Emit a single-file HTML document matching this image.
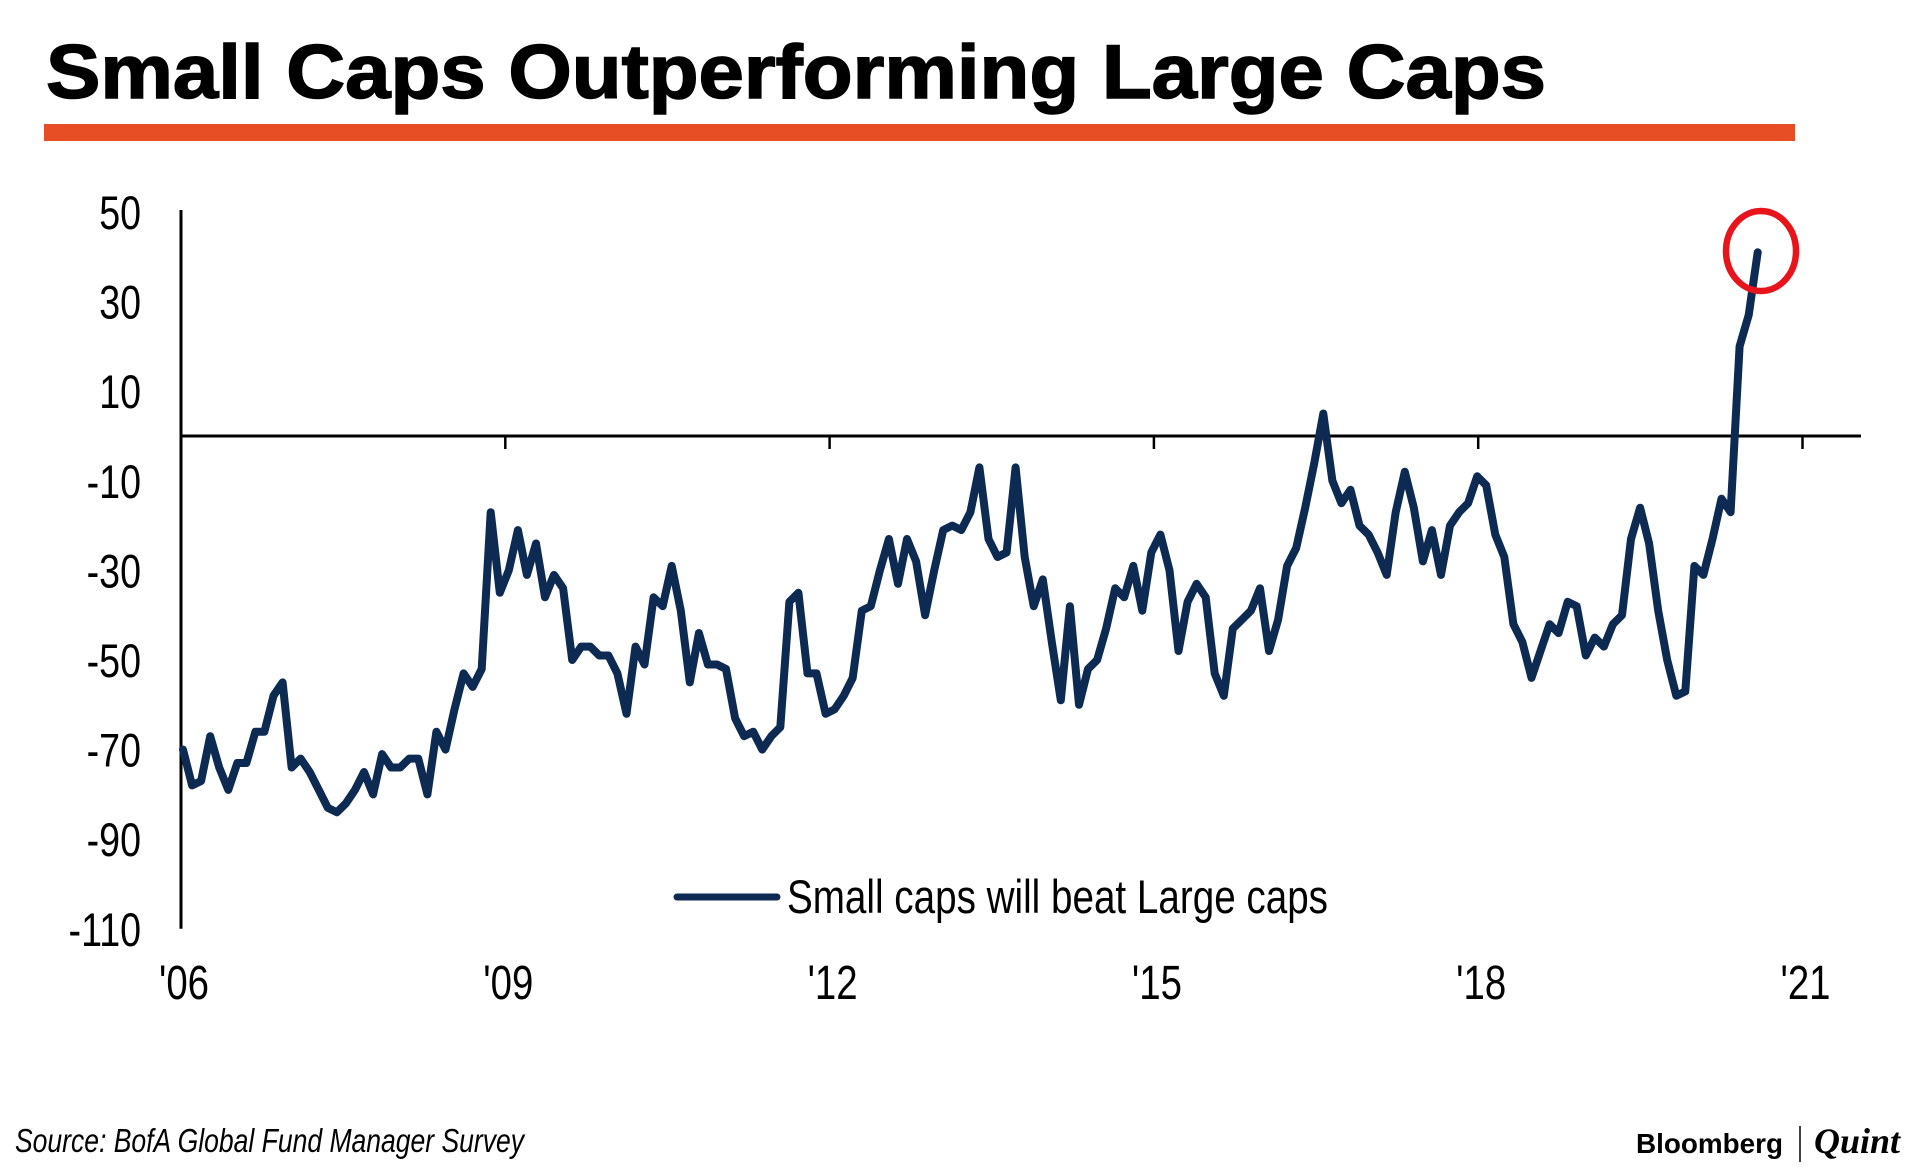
<!DOCTYPE html>
<html><head><meta charset="utf-8"><style>
html,body{margin:0;padding:0;background:#fff;}
svg{display:block;}
</style></head><body>
<svg id="chart" width="1920" height="1168" viewBox="0 0 1920 1168" xmlns="http://www.w3.org/2000/svg">
<text x="46" y="98" font-family="Liberation Sans, sans-serif" font-weight="bold" font-size="76" textLength="1500" lengthAdjust="spacingAndGlyphs" fill="#000" stroke="#000" stroke-width="1.5">Small Caps Outperforming Large Caps</text>
<rect x="44" y="124" width="1751" height="17" fill="#e84e26"/>
<g id="axes"></g>
<g id="series"></g>
<g>
<line x1="677" y1="897" x2="777" y2="897" stroke="#0d2a52" stroke-width="7" stroke-linecap="round"/>
<text x="787" y="913" font-family="Liberation Sans, sans-serif" font-size="47" textLength="541" lengthAdjust="spacingAndGlyphs" fill="#000">Small caps will beat Large caps</text>
</g>
<ellipse cx="1761" cy="251" rx="35" ry="40" fill="none" stroke="#e8141c" stroke-width="6.5"/>
<text x="15" y="1152" font-family="Liberation Sans, sans-serif" font-style="italic" font-size="33" textLength="509" lengthAdjust="spacingAndGlyphs" fill="#000">Source: BofA Global Fund Manager Survey</text>
<text x="1636" y="1153" font-family="Liberation Sans, sans-serif" font-weight="bold" font-size="28" fill="#000" textLength="147" lengthAdjust="spacingAndGlyphs">Bloomberg</text>
<line x1="1800" y1="1126" x2="1800" y2="1162" stroke="#000" stroke-width="1.5"/>
<text x="1814" y="1153" font-family="Liberation Serif, serif" font-weight="bold" font-style="italic" font-size="36" fill="#000">Quint</text>
</svg>
<script>
const yTicks = [50, 30, 10, -10, -30, -50, -70, -90, -110];
const xTickLabels = ["'06", "'09", "'12", "'15", "'18", "'21"];
const xTickYears = [2006, 2009, 2012, 2015, 2018, 2021];
const startYear = 2006;
const values = [-70,-78,-77,-67,-74,-79,-73,-73,-66,-66,-58,-55,-74,-72,-75,-79,-83,-84,-82,-79,-75,-80,-71,-74,-74,-72,-72,-80,-66,-70,-61,-53,-56,-52,-17,-35,-30,-21,-31,-24,-36,-31,-34,-50,-47,-47,-49,-49,-53,-62,-47,-51,-36,-38,-29,-39,-55,-44,-51,-51,-52,-63,-67,-66,-70,-67,-65,-37,-35,-53,-53,-62,-61,-58,-54,-39,-38,-30,-23,-33,-23,-28,-40,-30,-21,-20,-21,-17,-7,-23,-27,-26,-7,-27,-38,-32,-46,-59,-38,-60,-52,-50,-43,-34,-36,-29,-39,-26,-22,-30,-48,-37,-33,-36,-53,-58,-43,-41,-39,-34,-48,-41,-29,-25,-16,-6,5,-10,-15,-12,-20,-22,-26,-31,-17,-8,-16,-28,-21,-31,-20,-17,-15,-9,-11,-22,-27,-42,-46,-54,-48,-42,-44,-37,-38,-49,-45,-47,-42,-40,-23,-16,-24,-39,-50,-58,-57,-29,-31,-23,-14,-17,20,27,41];

const NS = "http://www.w3.org/2000/svg";
const X0 = 181, PX_PER_YEAR = 108.1, Y0 = 436, PX_PER_UNIT = 4.48;
function xYear(y){ return X0 + (y - startYear) * PX_PER_YEAR; }
function xMonth(m){ return X0 + 2 + m * 9.05; }
function yVal(v){ return Y0 - v * PX_PER_UNIT; }
function mk(tag, attrs){ const e = document.createElementNS(NS, tag); for (const k in attrs) e.setAttribute(k, attrs[k]); return e; }

const axes = document.getElementById('axes');
const yAxis = mk('line', {x1: X0, y1: yVal(50) - 2, x2: X0, y2: yVal(-110), stroke: '#000', 'stroke-width': 3});


axes.appendChild(yAxis);
const zeroLine = mk('line', {x1: X0, y1: Y0, x2: 1861, y2: Y0, stroke: '#000', 'stroke-width': 3});


axes.appendChild(zeroLine);

yTicks.forEach(v => {
  const g = mk('g', {transform: 'translate(141,' + (yVal(v) + 17) + ') scale(0.8,1)'});
  const t = mk('text', {x: 0, y: 0, 'text-anchor': 'end', 'font-family': 'Liberation Sans, sans-serif', 'font-size': 47, fill: '#000'});
  t.textContent = v;
  
  
  g.appendChild(t);
  axes.appendChild(g);
});
xTickYears.forEach((yr, i) => {
  const x = xYear(yr);
  if (i > 0) {
    const tk = mk('line', {x1: x, y1: Y0, x2: x, y2: Y0 + 13, stroke: '#000', 'stroke-width': 2.5});
    
    
    axes.appendChild(tk);
  }
  const g = mk('g', {transform: 'translate(' + (x + 3) + ',999) scale(0.8,1)'});
  const t = mk('text', {x: 0, y: 0, 'text-anchor': 'middle', 'font-family': 'Liberation Sans, sans-serif', 'font-size': 48, fill: '#000'});
  t.textContent = xTickLabels[i];
  
  
  g.appendChild(t);
  axes.appendChild(g);
});

const pts = values.map((v, m) => xMonth(m).toFixed(1) + ',' + yVal(v).toFixed(1)).join(' ');
const line = mk('polyline', {points: pts, fill: 'none', stroke: '#0d2a52', 'stroke-width': 8, 'stroke-linejoin': 'round', 'stroke-linecap': 'round'});


document.getElementById('series').appendChild(line);
</script>
</body></html>
